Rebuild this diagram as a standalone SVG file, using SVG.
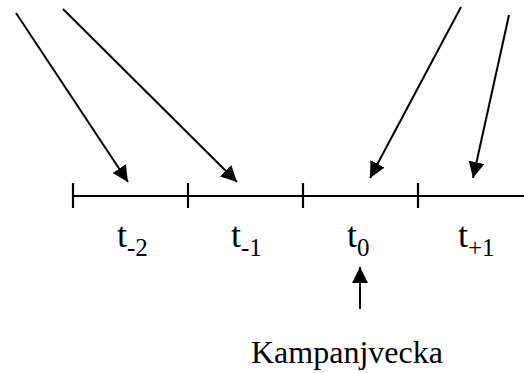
<svg xmlns="http://www.w3.org/2000/svg" width="524" height="373" viewBox="0 0 524 373">
<style>
.ln{stroke:#000;stroke-width:2;fill:none}
.tk{stroke:#000;stroke-width:2.2}
.tx{font-family:'Liberation Serif','Times New Roman','DejaVu Serif',serif;fill:#000}
.lb{font-size:36px}
.sb{font-size:25px}
</style>
<defs>
<marker id="ah" viewBox="0 0 10 10" refX="10" refY="5" markerWidth="8" markerHeight="8" markerUnits="strokeWidth" orient="auto">
<path d="M0,0 L10,5 L0,10 Z" fill="#000"/>
</marker>
</defs>
<g id="timeline">
<line class="ln" x1="73" y1="196" x2="524" y2="196"/>
<line class="tk" x1="73" y1="183" x2="73" y2="208"/>
<line class="tk" x1="188" y1="183" x2="188" y2="208"/>
<line class="tk" x1="303" y1="183" x2="303" y2="208"/>
<line class="tk" x1="418" y1="183" x2="418" y2="208"/>
</g>
<g id="connectors">
<line class="ln" x1="16" y1="13" x2="128" y2="182" marker-end="url(#ah)"/>
<line class="ln" x1="63" y1="9" x2="237" y2="182" marker-end="url(#ah)"/>
<line class="ln" x1="461" y1="7" x2="370" y2="178" marker-end="url(#ah)"/>
<line class="ln" x1="509" y1="15" x2="473" y2="178" marker-end="url(#ah)"/>
<line class="ln" x1="360" y1="309" x2="360" y2="267" marker-end="url(#ah)"/>
</g>
<g id="label-t-2"><text class="tx lb" x="117" y="247">t<tspan class="sb" dy="9">-2</tspan></text></g>
<g id="label-t-1"><text class="tx lb" x="231" y="247">t<tspan class="sb" dy="9">-1</tspan></text></g>
<g id="label-t0"><text class="tx lb" x="347" y="247">t<tspan class="sb" dy="9">0</tspan></text></g>
<g id="label-t+1"><text class="tx lb" x="458" y="247">t<tspan class="sb" dy="9">+1</tspan></text></g>
<g id="label-kampanjvecka"><text class="tx" x="251" y="363" font-size="32">Kampanjvecka</text></g>
</svg>
